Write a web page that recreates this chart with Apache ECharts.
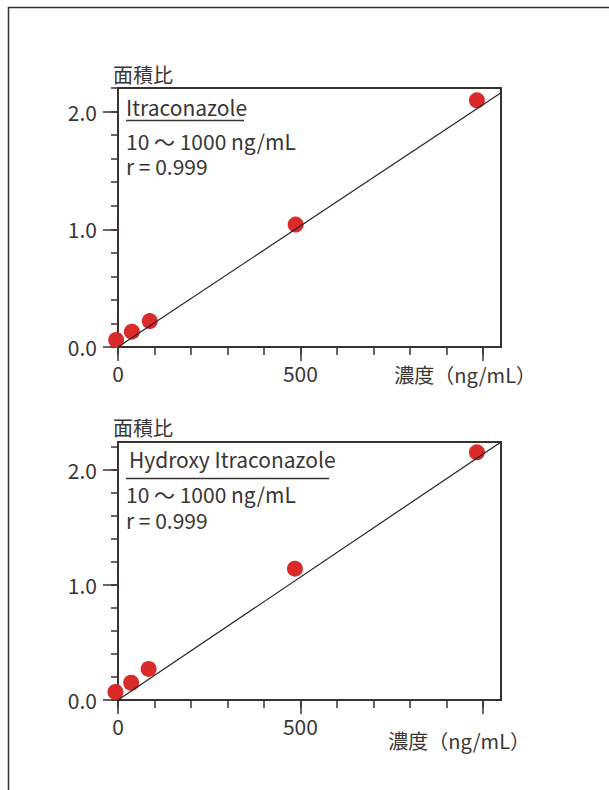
<!DOCTYPE html>
<html>
<head>
<meta charset="utf-8">
<script src="https://cdn.jsdelivr.net/npm/echarts@6/dist/echarts.min.js"></script>
<style>
  html, body { margin: 0; padding: 0; background: #fff; }
  #chart { width: 609px; height: 790px; }
</style>
</head>
<body>
<div id="chart"></div>
<script>
// data
var concItra = [-5, 38, 87, 487, 984]
var ratioItra = [0.06, 0.13, 0.22, 1.04, 2.095]
var concHydroxy = [-7, 36, 84, 485, 984]
var ratioHydroxy = [0.07, 0.15, 0.27, 1.14, 2.15]

// regression lines (start / end)
var fitX = [0, 1050]
var fitItra = [0, 2.16]
var fitHydroxy = [0, 2.24]

// axes
var xMax = 1050
var yMaxTop = 2.2
var yMaxBottom = 2.24
var xMinorTicks = [0, 100, 200, 300, 400, 500, 600, 700, 800, 900, 1000]
var xMajorTicks = [0, 500, 1000]
var xLabels = [0, 500]
var yMinorTicks = [0, 0.2, 0.4, 0.6, 0.8, 1.0, 1.2, 1.4, 1.6, 1.8, 2.0, 2.2]
var yMajorTicks = [0, 1, 2]

var titles = ['Itraconazole', 'Hydroxy Itraconazole']
var rangeText = '10 ～ 1000 ng/mL'
var rText = 'r = 0.999'
var yName = '面積比'
var xName = '濃度（ng/mL）'

var FONT = '"Noto Sans CJK JP", "Noto Sans", sans-serif'
var TXT = '#3a3535'
var AXIS = '#3a3030'
var RED = '#da2a2a'

function pairs(xs, ys) {
  return xs.map(function (x, i) { return [x, ys[i]] })
}

function xAxes(grid) {
  return [{
    gridIndex: grid, type: 'value', min: 0, max: xMax,
    axisLine: { lineStyle: { color: AXIS, width: 2 } },
    axisTick: { length: 8, customValues: xMinorTicks, lineStyle: { color: AXIS, width: 1.5 } },
    axisLabel: { show: false },
    splitLine: { show: false }
  }, {
    gridIndex: grid, type: 'value', min: 0, max: xMax, position: 'bottom',
    axisLine: { show: false },
    axisTick: { length: 14, customValues: xMajorTicks, lineStyle: { color: AXIS, width: 1.5 } },
    axisLabel: {
      customValues: xLabels, margin: 15, color: TXT, fontSize: 21, fontFamily: FONT
    },
    splitLine: { show: false }
  }]
}

function yAxes(grid, max) {
  return [{
    gridIndex: grid, type: 'value', min: 0, max: max,
    axisLine: { lineStyle: { color: AXIS, width: 2 } },
    axisTick: { length: 7, customValues: yMinorTicks, lineStyle: { color: AXIS, width: 1.5 } },
    axisLabel: { show: false },
    splitLine: { show: false }
  }, {
    gridIndex: grid, type: 'value', min: 0, max: max, position: 'left',
    axisLine: { show: false },
    axisTick: { length: 15, customValues: yMajorTicks, lineStyle: { color: AXIS, width: 1.5 } },
    axisLabel: {
      customValues: yMajorTicks, margin: 21, color: TXT, fontSize: 21, fontFamily: FONT,
      formatter: function (v) { return v.toFixed(1) }
    },
    splitLine: { show: false }
  }]
}

// y is the vertical middle of the text
function text(str, x, y, size, align) {
  return {
    type: 'text', z: 10,
    style: {
      text: str, x: x, y: y, fill: TXT, textAlign: align || 'left',
      textVerticalAlign: 'middle', lineHeight: size,
      font: size + 'px ' + FONT
    }
  }
}

function rule(x1, x2, y) {
  return {
    type: 'line', z: 10,
    shape: { x1: x1, y1: y, x2: x2, y2: y },
    style: { stroke: TXT, lineWidth: 1.3 }
  }
}

var chart = echarts.init(document.getElementById('chart'), null, { renderer: 'svg' })

chart.setOption({
  animation: false,
  backgroundColor: '#fff',
  grid: [
    { left: 118, top: 88, width: 383, height: 259, show: true, borderColor: AXIS, borderWidth: 2 },
    { left: 118, top: 442, width: 383, height: 258, show: true, borderColor: AXIS, borderWidth: 2 }
  ],
  xAxis: xAxes(0).concat(xAxes(1)),
  yAxis: yAxes(0, yMaxTop).concat(yAxes(1, yMaxBottom)),
  series: [{
    type: 'scatter', xAxisIndex: 0, yAxisIndex: 0, clip: false,
    symbolSize: 16, itemStyle: { color: RED, opacity: 1 },
    data: pairs(concItra, ratioItra)
  }, {
    type: 'line', xAxisIndex: 0, yAxisIndex: 0, z: 3, symbol: 'none',
    lineStyle: { color: '#222', width: 1.2 },
    data: pairs(fitX, fitItra)
  }, {
    type: 'scatter', xAxisIndex: 2, yAxisIndex: 2, clip: false,
    symbolSize: 16, itemStyle: { color: RED, opacity: 1 },
    data: pairs(concHydroxy, ratioHydroxy)
  }, {
    type: 'line', xAxisIndex: 2, yAxisIndex: 2, z: 3, symbol: 'none',
    lineStyle: { color: '#222', width: 1.2 },
    data: pairs(fitX, fitHydroxy)
  }],
  graphic: [
    // outer frame
    {
      type: 'polyline', z: 0,
      shape: { points: [[8.5, 790], [8.5, 7.5], [609, 7.5]] },
      style: { stroke: '#333', lineWidth: 1.5, fill: null }
    },
    // top chart texts
    text(yName, 113, 74, 20),
    text(titles[0], 126, 107, 21),
    rule(126, 244, 120.5),
    text(rangeText, 126, 141, 21),
    text(rText, 126, 166, 21),
    text(xName, 536, 374, 20, 'right'),
    // bottom chart texts
    text(yName, 113, 427, 20),
    text(titles[1], 129, 459, 21),
    rule(126, 329, 478.5),
    text(rangeText, 126, 494, 21),
    text(rText, 126, 520, 21),
    text(xName, 530, 740, 20, 'right')
  ]
})
</script>
</body>
</html>
